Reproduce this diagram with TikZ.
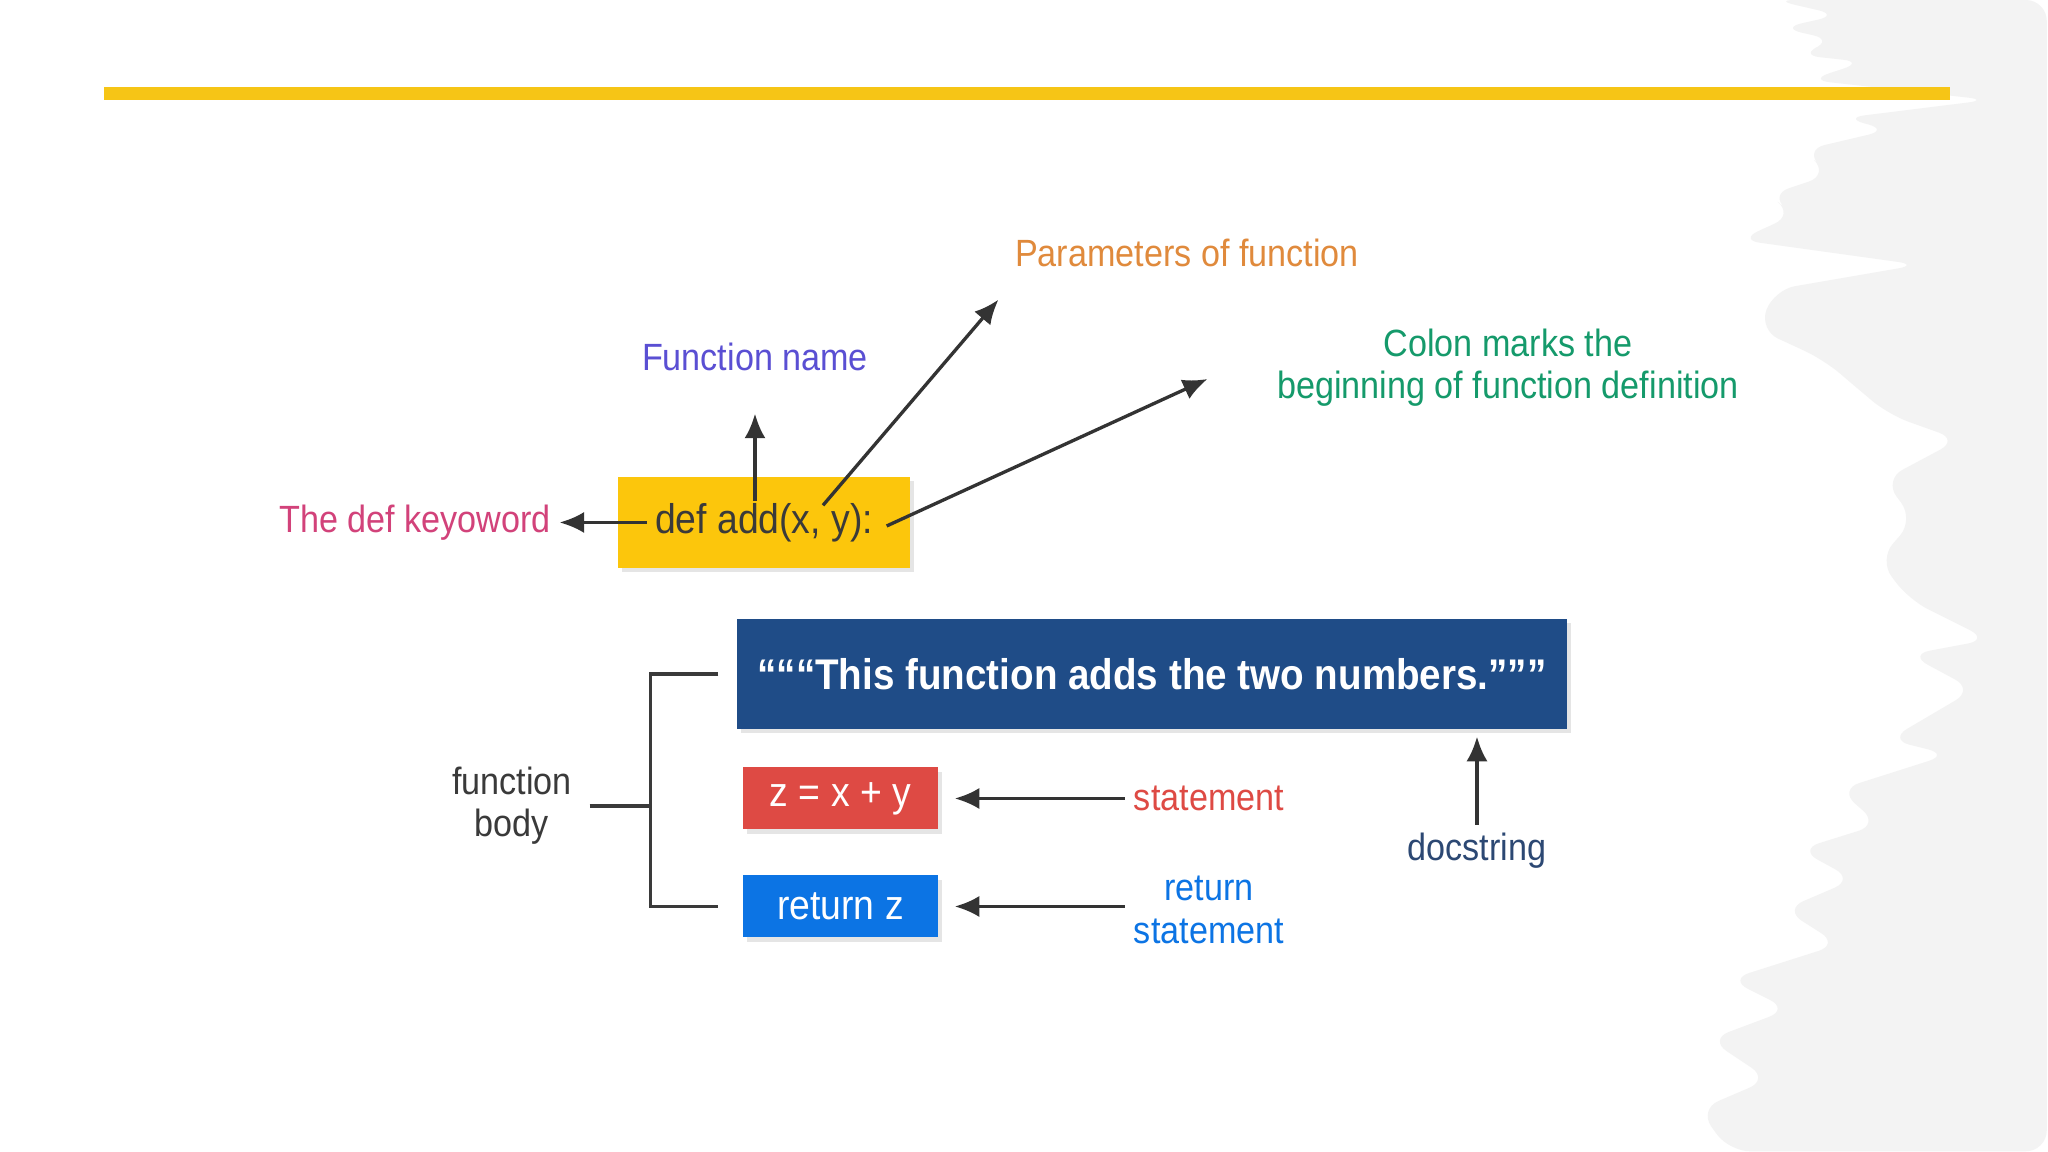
\documentclass[tikz,border=0pt]{standalone}
\usepackage{fontspec}
\setmainfont{Liberation Sans}[FakeStretch=0.9]
\usetikzlibrary{arrows.meta,shadows}
\definecolor{barYellow}{HTML}{F6C516}
\definecolor{codeYellow}{HTML}{FCC60C}
\definecolor{paper}{HTML}{F3F3F3}
\definecolor{keyPink}{HTML}{D2427A}
\definecolor{namePurple}{HTML}{5A4FD3}
\definecolor{paramOrange}{HTML}{E08A3C}
\definecolor{colonGreen}{HTML}{159A6B}
\definecolor{docBlue}{HTML}{1F4C87}
\definecolor{stmtRed}{HTML}{DE4A44}
\definecolor{retBlue}{HTML}{0C74E4}
\definecolor{docNavy}{HTML}{2C4873}
\definecolor{bodyGray}{HTML}{3A3A3A}
\definecolor{arrowGray}{HTML}{333333}
\def\lblfont{\fontsize{10.8}{12}\selectfont}
\def\codefont{\fontsize{11.8}{14}\selectfont}
\def\docfont{\fontsize{12.2}{15}\selectfont\bfseries}

\begin{document}
\begin{tikzpicture}[>={Latex[length=7pt,width=6pt]},line width=0.95pt,draw=arrowGray,node distance=1cm,
    lbl/.style={font=\lblfont,align=center,inner sep=2pt},
    shade box/.style={drop shadow={opacity=0.2,shadow xshift=1pt,shadow yshift=-1.2pt}},
    codebox/.style={shade box,fill=codeYellow,font=\codefont,text=bodyGray,
        minimum width=2.92cm,minimum height=0.91cm},
    docbox/.style={shade box,fill=docBlue,font=\docfont,text=white,
        minimum width=8.30cm,minimum height=1.10cm},
    stmtbox/.style={shade box,font=\codefont,text=white,inner sep=0pt,
        minimum width=1.95cm,minimum height=0.62cm}]

    \useasboundingbox (0,0) rectangle (20.48,11.52);
    \fill[white] (0,0) rectangle (20.48,11.52);
    % brushed grey edge on the right
    \begin{scope}[x=0.01cm,y=-0.01cm,yshift=11.52cm]
    \fill[paper,rounded corners=6pt] (1775,0) -- (1840,15) -- (1782,28) -- (1835,40)
        -- (1800,55) -- (1865,62) -- (1810,80) -- (1990,100) -- (1845,118) -- (1890,130)
        -- (1805,150) -- (1830,175) -- (1770,195) -- (1795,215) -- (1740,240) -- (1920,265)
        -- (1775,290) -- (1760,330) -- (1825,360) -- (1860,390) -- (1890,415) -- (1960,440)
        -- (1885,480) -- (1915,520) -- (1880,560) -- (1910,600) -- (1990,640) -- (1910,655)
        -- (1975,690) -- (1890,740) -- (1950,755) -- (1840,790) -- (1880,825) -- (1800,850)
        -- (1855,880) -- (1785,910) -- (1840,945) -- (1730,980) -- (1790,1010) -- (1710,1040)
        -- (1770,1080) -- (1700,1110) -- (1730,1152) -- (2048,1152) -- (2048,0) -- cycle;
    \end{scope}
    \fill[barYellow] (1.04,10.52) rectangle (19.50,10.65);

    \draw (7.64,6.295) node[codebox] (def) {def add(x, y):};

    \node[lbl,text=keyPink,left of=def,node distance=3.49cm] (keyword) {The def keyoword};
    \draw[<-] (keyword) to ([xshift=0.31cm]def.west);

    \node[lbl,text=namePurple,above of=def,node distance=1.655cm,xshift=-0.09cm] (fname) {Function name};
    \draw[<-,shorten <=0.34cm] (fname) to ([xshift=-0.09cm,yshift=-0.26cm]def.north);

    \node[lbl,text=paramOrange,right of=def,node distance=4.23cm,yshift=2.695cm] (params) {Parameters of function};
    \draw[<-] ([xshift=-0.08cm,yshift=-0.24cm]params.south west) to ([xshift=0.59cm,yshift=-0.30cm]def.north);

    \node[lbl,text=colonGreen,right of=def,node distance=7.44cm,yshift=1.545cm] (colon) {Colon marks the\\beginning of function definition};
    \draw[<-] ([xshift=-0.61cm,yshift=-0.11cm]colon.west) to ([xshift=-0.25cm,yshift=-0.035cm]def.east);

    \node[docbox,right of=def,node distance=3.88cm,yshift=-1.515cm] (doc) {“““This function adds the two numbers.”””};

    \node[stmtbox,fill=stmtRed,below of=def,node distance=2.76cm,xshift=0.765cm] (zbox) {z = x + y};
    \node[stmtbox,fill=retBlue,below of=zbox,node distance=1.08cm] (ret) {return z};

    \node[lbl,text=stmtRed,right of=zbox,node distance=3.685cm] (stmt) {statement};
    \draw[<-] ([xshift=0.15cm]zbox.east) to (stmt);

    \node[lbl,text=retBlue,right of=ret,node distance=3.685cm,yshift=-0.035cm] (retlbl) {return\\statement};
    \draw[<-] ([xshift=0.15cm]ret.east) to (retlbl.west |- ret);

    \node[lbl,text=docNavy,below of=doc,node distance=1.77cm,xshift=3.25cm] (docstr) {docstring};
    \draw[<-] ([yshift=-0.06cm]docstr |- doc.south) to (docstr);

    \node[lbl,text=bodyGray,left of=zbox,node distance=3.285cm,yshift=-0.075cm] (body) {function\\body};
    \coordinate (brk) at ([xshift=-0.85cm]doc.west);
    \draw[bodyGray] ([xshift=-0.17cm]doc.west) -- (brk) -- (brk |- ret) -- ([xshift=-0.23cm]ret.west);
    \draw[bodyGray] ([xshift=0.09cm]body.east) -- (brk |- body.east);

\end{tikzpicture}
\end{document}
